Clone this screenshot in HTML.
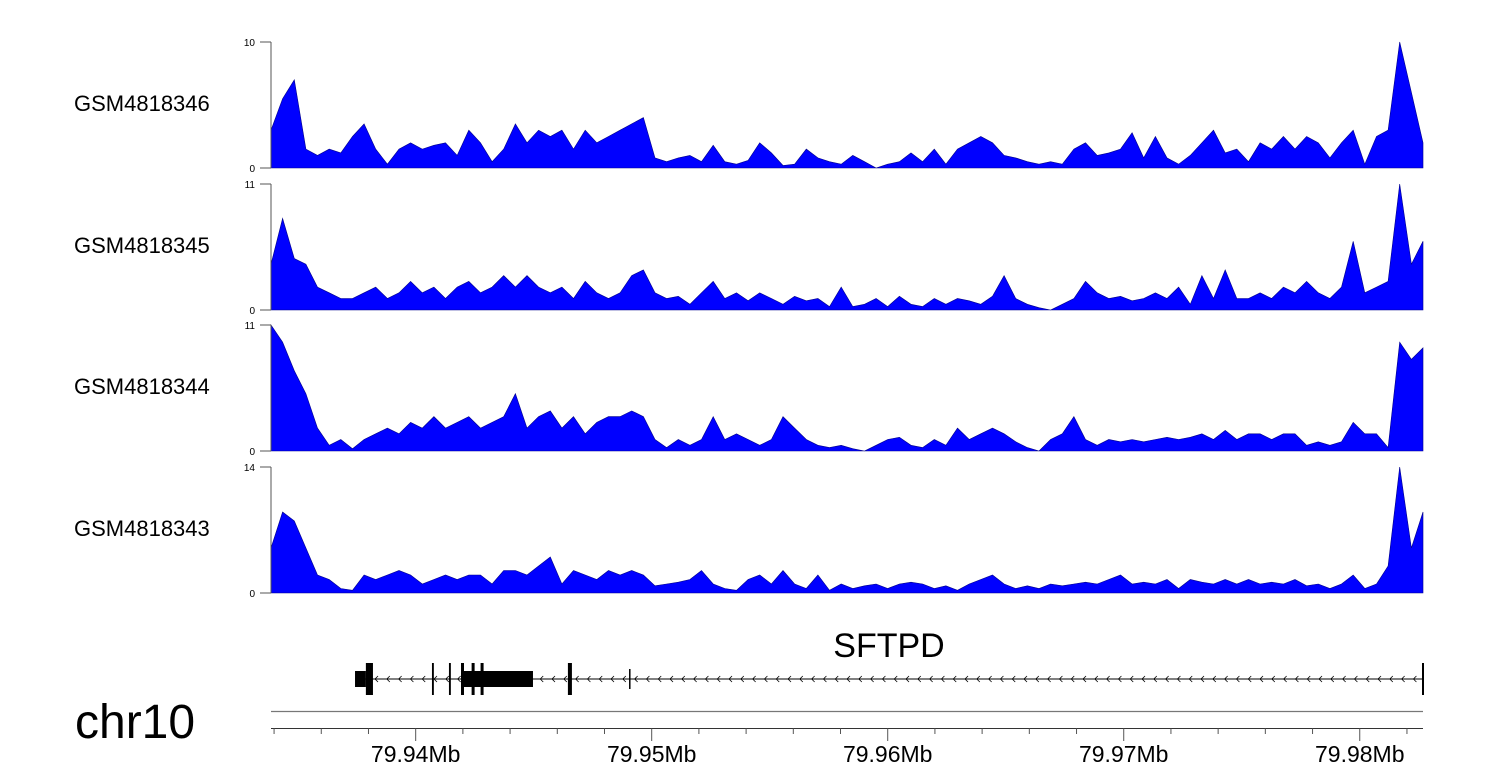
<!DOCTYPE html>
<html><head><meta charset="utf-8"><style>
body{margin:0;background:#fff;}
svg{display:block;font-family:"Liberation Sans",sans-serif;}
</style></head><body>
<svg id="chart" width="1500" height="780" viewBox="0 0 1500 780" xmlns="http://www.w3.org/2000/svg"></svg>
<script>
const sampleNames = ["GSM4818346","GSM4818345","GSM4818344","GSM4818343"];
const trackMax = [10,11,11,14];
const track1 = [3,5.5,7,1.5,1,1.5,1.2,2.5,3.5,1.5,0.3,1.5,2,1.5,1.8,2,1,3,2,0.5,1.5,3.5,2,3,2.5,3,1.5,3,2,2.5,3,3.5,4,0.8,0.5,0.8,1,0.5,1.8,0.5,0.3,0.6,2,1.2,0.2,0.3,1.5,0.8,0.5,0.3,1,0.5,0,0.3,0.5,1.2,0.5,1.5,0.3,1.5,2,2.5,2,1,0.8,0.5,0.3,0.5,0.3,1.5,2,1,1.2,1.5,2.8,0.8,2.5,0.8,0.3,1,2,3,1.2,1.5,0.5,2,1.5,2.5,1.5,2.5,2,0.8,2,3,0.3,2.5,3,10,6,2];
const track2 = [4,8,4.5,4,2,1.5,1,1,1.5,2,1,1.5,2.5,1.5,2,1,2,2.5,1.5,2,3,2,3,2,1.5,2,1,2.5,1.5,1,1.5,3,3.5,1.5,1,1.2,0.5,1.5,2.5,1,1.5,0.8,1.5,1,0.5,1.2,0.8,1,0.3,2,0.3,0.5,1,0.3,1.2,0.5,0.3,1,0.5,1,0.8,0.5,1.2,3,1,0.5,0.2,0,0.5,1,2.5,1.5,1,1.2,0.8,1,1.5,1,2,0.5,3,1,3.5,1,1,1.5,1,2,1.5,2.5,1.5,1,2,6,1.5,2,2.5,11,4,6];
const track3 = [11,9.5,7,5,2,0.5,1,0.2,1,1.5,2,1.5,2.5,2,3,2,2.5,3,2,2.5,3,5,2,3,3.5,2,3,1.5,2.5,3,3,3.5,3,1,0.3,1,0.5,1,3,1,1.5,1,0.5,1,3,2,1,0.5,0.3,0.5,0.2,0,0.5,1,1.2,0.5,0.3,1,0.5,2,1,1.5,2,1.5,0.8,0.3,0,1,1.5,3,1,0.5,1,0.8,1,0.8,1,1.2,1,1.2,1.5,1,1.8,1,1.5,1.5,1,1.5,1.5,0.5,0.8,0.5,0.8,2.5,1.5,1.5,0.3,9.5,8,9];
const track4 = [5,9,8,5,2,1.5,0.5,0.3,2,1.5,2,2.5,2,1,1.5,2,1.5,2,2,1,2.5,2.5,2,3,4,1,2.5,2,1.5,2.5,2,2.5,2,0.8,1,1.2,1.5,2.5,1,0.5,0.3,1.5,2,1,2.5,1,0.5,2,0.3,1,0.5,0.8,1,0.5,1,1.2,1,0.5,0.8,0.3,1,1.5,2,1,0.5,0.8,0.5,1,0.8,1,1.2,1,1.5,2,1,1.2,1,1.5,0.5,1.5,1.2,1,1.5,1,1.5,1,1.2,1,1.5,0.8,1,0.5,1,2,0.5,1,3,14,5,9];
const tracks = [track1,track2,track3,track4];
const regionMb = [79.93387, 79.98268];
const xTickMajor = [79.94,79.95,79.96,79.97,79.98];
const xTickLabels = ["79.94Mb","79.95Mb","79.96Mb","79.97Mb","79.98Mb"];
const geneStartMb = 79.93743, geneEndMb = 79.98268;
const exonStart = [79.93743,79.93789,79.94069,79.94141,79.94192,79.94645,79.94904];
const exonEnd   = [79.93789,79.93819,79.94077,79.94149,79.94497,79.94662,79.94908];
const exonTall  = [0,1,1,1,0,1,2];

const svg = document.getElementById('chart');
const NS = 'http://www.w3.org/2000/svg';
function mk(tag, attrs, parent){const e=document.createElementNS(NS,tag);for(const k in attrs)e.setAttribute(k,attrs[k]);(parent||svg).appendChild(e);return e;}
const X0=271, X1=1423;
function xMb(p){return X0+(p-regionMb[0])/(regionMb[1]-regionMb[0])*(X1-X0);}
const tops=[42,184,325,467], H=126;

tracks.forEach((vals,t)=>{
  const g=mk('g',{});
  
  
  const base=tops[t]+H;
  const yS=v=>base-v/trackMax[t]*H;
  const n=vals.length;
  let d='M'+X0+','+base;
  vals.forEach((v,i)=>{d+=' L'+(X0+i*(X1-X0)/(n-1)).toFixed(1)+','+yS(v).toFixed(1);});
  d+=' L'+X1+','+base+' Z';
  const p=mk('path',{d:d,fill:'#0000ff',stroke:'#00008b','stroke-width':'0.6'},g);
  
  
  mk('line',{x1:X0,y1:tops[t],x2:X0,y2:base,stroke:'#555','stroke-width':1},g);
  mk('line',{x1:260,y1:tops[t],x2:X0,y2:tops[t],stroke:'#555','stroke-width':1},g);
  mk('line',{x1:260,y1:base,x2:X0,y2:base,stroke:'#555','stroke-width':1},g);
  const tm=mk('text',{x:255,y:tops[t]+4,'font-size':10,'text-anchor':'end',fill:'#000'},g);tm.textContent=trackMax[t];
  
  const t0=mk('text',{x:255,y:base+4,'font-size':10,'text-anchor':'end',fill:'#000'},g);t0.textContent='0';
  
  const lb=mk('text',{x:74,y:tops[t]+69,'font-size':22,fill:'#000'},g);lb.textContent=sampleNames[t];
  
});

// gene track
const gg=mk('g',{});


const gy=679;
mk('line',{x1:xMb(geneStartMb),y1:gy,x2:xMb(geneEndMb),y2:gy,stroke:'#000','stroke-width':1},gg);
for(let x=xMb(geneStartMb)+20;x<xMb(geneEndMb)-4;x+=11.8){
  mk('path',{d:`M${x+3},${gy-3} L${x},${gy} L${x+3},${gy+3}`,fill:'none',stroke:'#000','stroke-width':0.8},gg);
}
exonStart.forEach((s,i)=>{
  const h=exonTall[i]===1?32:(exonTall[i]===0?16:20);
  const r=mk('rect',{x:xMb(s),y:gy-h/2,width:Math.max(1.5,xMb(exonEnd[i])-xMb(s)),height:h,fill:'#000'},gg);
  
});
mk('rect',{x:xMb(79.94192),y:gy-16,width:3,height:32,fill:'#000'},gg);
mk('rect',{x:xMb(79.94237),y:gy-16,width:3,height:32,fill:'#000'},gg);
mk('rect',{x:xMb(79.94275),y:gy-16,width:3,height:32,fill:'#000'},gg);
mk('rect',{x:X1-1,y:gy-16,width:2,height:32,fill:'#000'},gg);
const gl=mk('text',{x:889,y:657,'font-size':34,'text-anchor':'middle',fill:'#000'},gg);gl.textContent='SFTPD';


// chromosome line & axis
mk('line',{x1:X0,y1:711.5,x2:X1,y2:711.5,stroke:'#777','stroke-width':1.2});
const ax=mk('g',{});


mk('line',{x1:X0,y1:728.5,x2:X1,y2:728.5,stroke:'#333','stroke-width':1},ax);
for(let p=79.934;p<=regionMb[1]+1e-6;p+=0.002){
  const x=xMb(p);
  if(x<X0-1)continue;
  const major=Math.abs(Math.round(p*100)/100-p)<1e-6;
  mk('line',{x1:x,y1:728.5,x2:x,y2:major?741:734,stroke:'#555','stroke-width':1},ax);
}
xTickMajor.forEach((p,i)=>{
  const t=mk('text',{x:xMb(p),y:762,'font-size':23,'text-anchor':'middle',fill:'#000'},ax);t.textContent=xTickLabels[i];
  
});
const chr=mk('text',{x:75,y:738,'font-size':48,fill:'#000'});chr.textContent='chr10';

</script>
</body></html>
